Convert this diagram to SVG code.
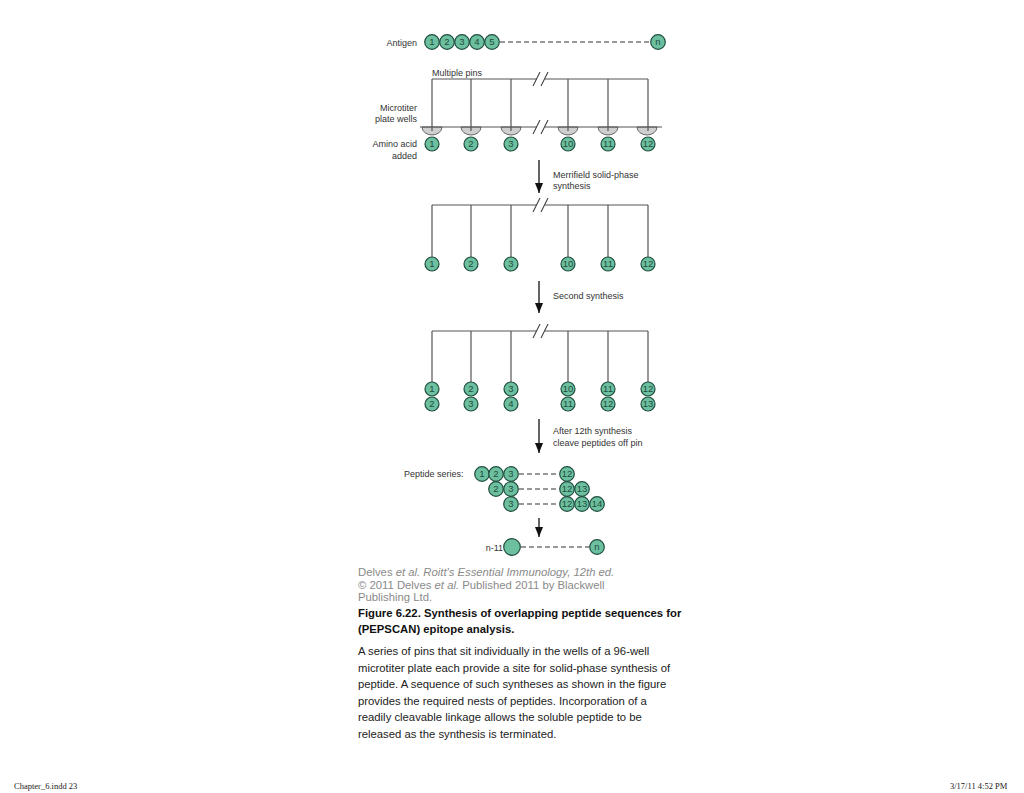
<svg xmlns="http://www.w3.org/2000/svg" width="1024" height="793" viewBox="0 0 1024 793">
<style>
.bead{fill:#6cbf9f;stroke:#1f4d3e;stroke-width:1.2}
.num{font-family:"Liberation Sans",Arial,sans-serif;font-size:9.5px;fill:#1f4d3e;text-anchor:middle}
.lbl{font-family:"Liberation Sans",Arial,sans-serif;font-size:9px;fill:#333}
.r{text-anchor:end}
.pin{stroke:#555;stroke-width:1.2;fill:none}
.brk{stroke:#444;stroke-width:1.1;fill:none}
.well{fill:#cfcfcf;stroke:#666;stroke-width:1}
.dash{stroke:#333;stroke-width:1.1;stroke-dasharray:5,3;fill:none}
.arr{stroke:#111;stroke-width:1.3;fill:none;marker-end:url(#ah)}
.cap{font-family:"Liberation Sans",Arial,sans-serif;font-size:11.3px;fill:#222}
.gray{fill:#8a8a8a}
.bold{font-weight:bold;fill:#111}
.foot{font-family:"Liberation Serif","Times New Roman",serif;font-size:8.5px;fill:#222}
</style>
<defs>
<marker id="ah" markerWidth="10" markerHeight="8" refX="10" refY="4" orient="auto" markerUnits="userSpaceOnUse" viewBox="0 0 10 8">
<path d="M0,0 L10,4 L0,8 Z" fill="#111"/>
</marker>
</defs>
<rect width="1024" height="793" fill="#fff"/>

<!-- Antigen row -->
<g id="antigen">
<text class="lbl r" x="417" y="46">Antigen</text>
<circle class="bead" cx="432" cy="42" r="7.3"/><text class="num" x="432" y="45.4">1</text>
<circle class="bead" cx="447" cy="42" r="7.3"/><text class="num" x="447" y="45.4">2</text>
<circle class="bead" cx="462" cy="42" r="7.3"/><text class="num" x="462" y="45.4">3</text>
<circle class="bead" cx="477" cy="42" r="7.3"/><text class="num" x="477" y="45.4">4</text>
<circle class="bead" cx="492" cy="42" r="7.3"/><text class="num" x="492" y="45.4">5</text>
<circle class="bead" cx="658" cy="42" r="7.3"/><text class="num" x="658" y="45.4">n</text>
</g>

<!-- Frame 1: pins in microtiter plate -->
<g id="frame1">
<text class="lbl" x="432" y="76">Multiple pins</text>
<text class="lbl r" x="417" y="111">Microtiter</text>
<text class="lbl r" x="417" y="122">plate wells</text>
<path class="pin" d="M432,79 H537 M545,79 H648"/>
<path class="brk" d="M533,86 L540,72 M541,86 L548,72"/>
<path class="well" d="M422,127 A10,8 0 0 0 442,127 Z M461,127 A10,8 0 0 0 481,127 Z M501,127 A10,8 0 0 0 521,127 Z M558,127 A10,8 0 0 0 578,127 Z M598,127 A10,8 0 0 0 618,127 Z M637,127 A10,8 0 0 0 657,127 Z"/>
<path class="pin" d="M420,127 H537 M545,127 H662"/>
<path class="brk" d="M533,134 L540,120 M541,134 L548,120"/>
<path class="pin" d="M432,79 V131 M471,79 V131 M511,79 V131 M568,79 V131 M608,79 V131 M648,79 V131"/>
<text class="lbl r" x="417" y="147">Amino acid</text>
<text class="lbl r" x="417" y="159">added</text>
<circle class="bead" cx="432" cy="144" r="7"/><text class="num" x="432" y="147.4">1</text>
<circle class="bead" cx="471" cy="144" r="7"/><text class="num" x="471" y="147.4">2</text>
<circle class="bead" cx="511" cy="144" r="7"/><text class="num" x="511" y="147.4">3</text>
<circle class="bead" cx="568" cy="144" r="7"/><text class="num" x="568" y="147.4">10</text>
<circle class="bead" cx="608" cy="144" r="7"/><text class="num" x="608" y="147.4">11</text>
<circle class="bead" cx="648" cy="144" r="7"/><text class="num" x="648" y="147.4">12</text>
</g>

<!-- Frame 2 -->
<g id="frame2">
<path class="pin" d="M432,205 H537 M545,205 H648"/>
<path class="brk" d="M533,212 L540,198 M541,212 L548,198"/>
<path class="pin" d="M432,205 V257 M471,205 V257 M511,205 V257 M568,205 V257 M608,205 V257 M648,205 V257"/>
<circle class="bead" cx="432" cy="264" r="7"/><text class="num" x="432" y="267.4">1</text>
<circle class="bead" cx="471" cy="264" r="7"/><text class="num" x="471" y="267.4">2</text>
<circle class="bead" cx="511" cy="264" r="7"/><text class="num" x="511" y="267.4">3</text>
<circle class="bead" cx="568" cy="264" r="7"/><text class="num" x="568" y="267.4">10</text>
<circle class="bead" cx="608" cy="264" r="7"/><text class="num" x="608" y="267.4">11</text>
<circle class="bead" cx="648" cy="264" r="7"/><text class="num" x="648" y="267.4">12</text>
</g>

<!-- Frame 3 -->
<g id="frame3">
<path class="pin" d="M432,331 H537 M545,331 H648"/>
<path class="brk" d="M533,338 L540,324 M541,338 L548,324"/>
<path class="pin" d="M432,331 V382 M471,331 V382 M511,331 V382 M568,331 V382 M608,331 V382 M648,331 V382"/>
<circle class="bead" cx="432" cy="389" r="7"/><text class="num" x="432" y="392.4">1</text>
<circle class="bead" cx="471" cy="389" r="7"/><text class="num" x="471" y="392.4">2</text>
<circle class="bead" cx="511" cy="389" r="7"/><text class="num" x="511" y="392.4">3</text>
<circle class="bead" cx="568" cy="389" r="7"/><text class="num" x="568" y="392.4">10</text>
<circle class="bead" cx="608" cy="389" r="7"/><text class="num" x="608" y="392.4">11</text>
<circle class="bead" cx="648" cy="389" r="7"/><text class="num" x="648" y="392.4">12</text>
<circle class="bead" cx="432" cy="404" r="7"/><text class="num" x="432" y="407.4">2</text>
<circle class="bead" cx="471" cy="404" r="7"/><text class="num" x="471" y="407.4">3</text>
<circle class="bead" cx="511" cy="404" r="7"/><text class="num" x="511" y="407.4">4</text>
<circle class="bead" cx="568" cy="404" r="7"/><text class="num" x="568" y="407.4">11</text>
<circle class="bead" cx="608" cy="404" r="7"/><text class="num" x="608" y="407.4">12</text>
<circle class="bead" cx="648" cy="404" r="7"/><text class="num" x="648" y="407.4">13</text>
</g>

<!-- Peptide series -->
<g id="peptides">
<text class="lbl" x="404" y="477">Peptide series:</text>
<circle class="bead" cx="482" cy="474" r="7.3"/><text class="num" x="482" y="477.4">1</text>
<circle class="bead" cx="496" cy="474" r="7.3"/><text class="num" x="496" y="477.4">2</text>
<circle class="bead" cx="511" cy="474" r="7.3"/><text class="num" x="511" y="477.4">3</text>
<circle class="bead" cx="567" cy="474" r="7.3"/><text class="num" x="567" y="477.4">12</text>
<circle class="bead" cx="496" cy="489" r="7.3"/><text class="num" x="496" y="492.4">2</text>
<circle class="bead" cx="511" cy="489" r="7.3"/><text class="num" x="511" y="492.4">3</text>
<circle class="bead" cx="567" cy="489" r="7.3"/><text class="num" x="567" y="492.4">12</text>
<circle class="bead" cx="582" cy="489" r="7.3"/><text class="num" x="582" y="492.4">13</text>
<circle class="bead" cx="511" cy="504" r="7.3"/><text class="num" x="511" y="507.4">3</text>
<circle class="bead" cx="567" cy="504" r="7.3"/><text class="num" x="567" y="507.4">12</text>
<circle class="bead" cx="582" cy="504" r="7.3"/><text class="num" x="582" y="507.4">13</text>
<circle class="bead" cx="597" cy="504" r="7.3"/><text class="num" x="597" y="507.4">14</text>
</g>

<!-- n-11 row -->
<g id="final">
<text class="lbl r" x="503" y="551">n-11</text>
<circle class="bead" cx="512" cy="547" r="8.3"/>
<circle class="bead" cx="597" cy="547" r="7.3"/><text class="num" x="597" y="550.4">n</text>
</g>

<!-- Connectors -->
<g id="connectors">
<path class="dash" d="M500,42 H650"/>
<path class="dash" d="M519,474 H559 M519,489 H559 M519,504 H559"/>
<path class="dash" d="M521,547 H589"/>
<path class="arr" d="M539,160 V193"/>
<path class="arr" d="M539,281 V313"/>
<path class="arr" d="M539,419 V453"/>
<path class="arr" d="M539,518 V537"/>
</g>

<!-- Step labels -->
<g id="step-labels">
<text class="lbl" x="553" y="178">Merrifield solid-phase</text>
<text class="lbl" x="553" y="189">synthesis</text>
<text class="lbl" x="553" y="299">Second synthesis</text>
<text class="lbl" x="553" y="434">After 12th synthesis</text>
<text class="lbl" x="553" y="446">cleave peptides off pin</text>
</g>

<!-- Caption -->
<g id="caption">
<text class="cap gray" x="358" y="576">Delves <tspan font-style="italic">et al. Roitt's Essential Immunology, 12th ed.</tspan></text>
<text class="cap gray" x="358" y="589">© 2011 Delves <tspan font-style="italic">et al.</tspan> Published 2011 by Blackwell</text>
<text class="cap gray" x="358" y="601">Publishing Ltd.</text>
<text class="cap bold" x="358" y="617">Figure 6.22. Synthesis of overlapping peptide sequences for</text>
<text class="cap bold" x="358" y="633">(PEPSCAN) epitope analysis.</text>
<text class="cap" x="358" y="655">A series of pins that sit individually in the wells of a 96-well</text>
<text class="cap" x="358" y="671.5">microtiter plate each provide a site for solid-phase synthesis of</text>
<text class="cap" x="358" y="688">peptide. A sequence of such syntheses as shown in the figure</text>
<text class="cap" x="358" y="704.5">provides the required nests of peptides. Incorporation of a</text>
<text class="cap" x="358" y="721">readily cleavable linkage allows the soluble peptide to be</text>
<text class="cap" x="358" y="737.5">released as the synthesis is terminated.</text>
</g>

<!-- Footer -->
<g id="footer">
<text class="foot" x="14" y="789">Chapter_6.indd  23</text>
<text class="foot" x="950" y="789">3/17/11  4:52 PM</text>
</g>
</svg>
